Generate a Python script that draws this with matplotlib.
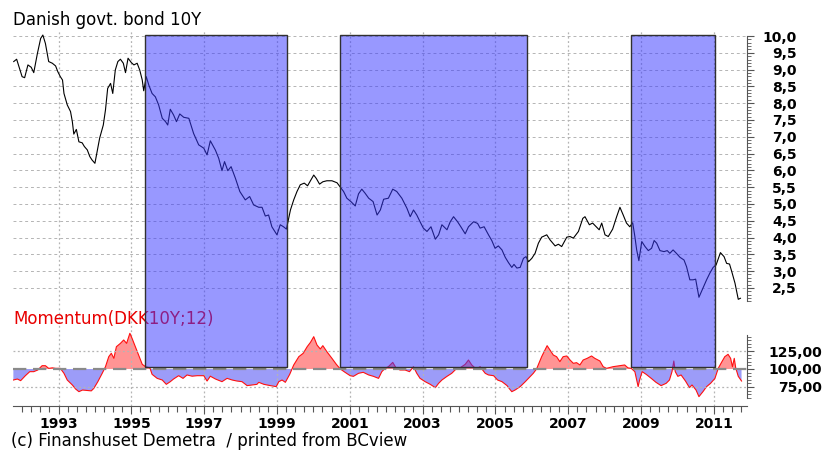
import numpy as np
import matplotlib
matplotlib.use('Agg')
import matplotlib.pyplot as plt
from matplotlib.patches import Rectangle
from matplotlib.transforms import blended_transform_factory
from matplotlib.ticker import FixedLocator, FuncFormatter

# Danish govt. bond 10Y yield (decimal years)
bond_t = [1991.77, 1991.85, 1992.00, 1992.07, 1992.16, 1992.25, 1992.32, 1992.42, 1992.51, 1992.57,
          1992.64, 1992.73, 1992.83, 1992.92, 1992.98, 1993.05, 1993.11, 1993.15, 1993.24, 1993.33,
          1993.38, 1993.42, 1993.49, 1993.56, 1993.65, 1993.71, 1993.79, 1993.86, 1993.92, 1994.00,
          1994.06, 1994.13, 1994.23, 1994.29, 1994.35, 1994.43, 1994.49, 1994.56, 1994.63, 1994.70,
          1994.78, 1994.84, 1994.91, 1995.00, 1995.07, 1995.16, 1995.23, 1995.30, 1995.34, 1995.41,
          1995.48, 1995.57, 1995.66, 1995.75, 1995.85, 1995.94, 1996.00, 1996.07, 1996.16, 1996.24,
          1996.33, 1996.44, 1996.58, 1996.71, 1996.85, 1996.99, 1997.08, 1997.17, 1997.31, 1997.40,
          1997.49, 1997.56, 1997.65, 1997.74, 1997.86, 1997.98, 1998.13, 1998.25, 1998.36, 1998.50,
          1998.59, 1998.68, 1998.77, 1998.86, 1999.00, 1999.09, 1999.18, 1999.26, 1999.37, 1999.46,
          1999.55, 1999.64, 1999.75, 1999.84, 1999.93, 2000.01, 2000.08, 2000.17, 2000.26, 2000.37,
          2000.51, 2000.65, 2000.83, 2000.92, 2001.03, 2001.15, 2001.24, 2001.33, 2001.42, 2001.52,
          2001.64, 2001.75, 2001.84, 2001.93, 2002.06, 2002.18, 2002.29, 2002.43, 2002.57, 2002.66,
          2002.75, 2002.84, 2002.93, 2003.02, 2003.12, 2003.23, 2003.35, 2003.44, 2003.53, 2003.67,
          2003.76, 2003.85, 2003.96, 2004.05, 2004.17, 2004.26, 2004.40, 2004.51, 2004.58, 2004.69,
          2004.81, 2004.90, 2004.99, 2005.08, 2005.18, 2005.27, 2005.36, 2005.45, 2005.51, 2005.59,
          2005.68, 2005.77, 2005.84, 2005.91, 2006.00, 2006.09, 2006.18, 2006.27, 2006.41, 2006.50,
          2006.64, 2006.73, 2006.82, 2006.96, 2007.05, 2007.14, 2007.28, 2007.40, 2007.46, 2007.58,
          2007.67, 2007.78, 2007.85, 2007.92, 2008.01, 2008.10, 2008.22, 2008.33, 2008.42, 2008.51,
          2008.60, 2008.69, 2008.77, 2008.83, 2008.88, 2008.94, 2009.02, 2009.11, 2009.20, 2009.29,
          2009.36, 2009.43, 2009.52, 2009.63, 2009.72, 2009.79, 2009.88, 2009.97, 2010.07, 2010.18,
          2010.25, 2010.34, 2010.43, 2010.50, 2010.59, 2010.70, 2010.80, 2010.89, 2010.98, 2011.06,
          2011.18, 2011.28, 2011.35, 2011.43, 2011.49, 2011.58, 2011.67, 2011.73]
bond_y = [9.24, 9.31, 8.79, 8.76, 9.14, 9.07, 8.91, 9.48, 9.93, 10.03,
          9.78, 9.24, 9.19, 9.11, 8.94, 8.79, 8.69, 8.29, 7.95, 7.75,
          7.45, 7.08, 7.22, 6.85, 6.82, 6.71, 6.61, 6.41, 6.31, 6.21,
          6.56, 6.96, 7.35, 7.80, 8.44, 8.59, 8.29, 8.99, 9.24, 9.31,
          9.19, 8.91, 9.34, 9.21, 9.14, 9.19, 8.99, 8.69, 8.37, 8.79,
          8.54, 8.29, 8.19, 7.95, 7.55, 7.45, 7.35, 7.82, 7.65, 7.45,
          7.68, 7.58, 7.55, 7.10, 6.76, 6.66, 6.46, 6.88, 6.60, 6.36,
          5.99, 6.26, 5.99, 6.11, 5.76, 5.37, 5.12, 5.22, 4.97, 4.90,
          4.90, 4.64, 4.67, 4.32, 4.08, 4.38, 4.32, 4.25, 4.82, 5.12,
          5.37, 5.57, 5.62, 5.54, 5.71, 5.86, 5.76, 5.59, 5.66, 5.69,
          5.69, 5.63, 5.37, 5.17, 5.07, 4.94, 5.30, 5.44, 5.32, 5.17,
          5.07, 4.67, 4.82, 5.14, 5.17, 5.44, 5.37, 5.17, 4.87, 4.62,
          4.82, 4.67, 4.47, 4.28, 4.18, 4.32, 3.95, 4.08, 4.38, 4.23,
          4.47, 4.62, 4.47, 4.32, 4.11, 4.32, 4.47, 4.42, 4.28, 4.32,
          4.08, 3.91, 3.68, 3.75, 3.63, 3.41, 3.25, 3.11, 3.20, 3.09,
          3.11, 3.38, 3.43, 3.28, 3.38, 3.53, 3.83, 4.01, 4.08, 3.93,
          3.75, 3.80, 3.73, 4.01, 4.03, 3.98, 4.18, 4.57, 4.62, 4.38,
          4.43, 4.31, 4.23, 4.43, 4.08, 4.03, 4.25, 4.62, 4.90, 4.67,
          4.43, 4.32, 4.44, 4.03, 3.63, 3.31, 3.88, 3.73, 3.61, 3.68,
          3.91, 3.83, 3.61, 3.58, 3.61, 3.53, 3.63, 3.53, 3.41, 3.33,
          3.13, 2.74, 2.74, 2.76, 2.22, 2.49, 2.74, 2.94, 3.11, 3.18,
          3.55, 3.43, 3.23, 3.21, 2.99, 2.64, 2.16, 2.19]

# Momentum(DKK10Y;12)
mom_t = [1991.76, 1991.87, 1991.96, 1992.09, 1992.21, 1992.32, 1992.43, 1992.55, 1992.64, 1992.73,
         1992.83, 1992.92, 1993.05, 1993.15, 1993.24, 1993.38, 1993.47, 1993.56, 1993.66, 1993.79,
         1993.90, 1993.97, 1994.08, 1994.20, 1994.29, 1994.38, 1994.45, 1994.52, 1994.59, 1994.70,
         1994.79, 1994.87, 1994.96, 1995.02, 1995.11, 1995.20, 1995.30, 1995.39, 1995.51, 1995.57,
         1995.71, 1995.85, 1995.96, 1996.07, 1996.16, 1996.30, 1996.42, 1996.53, 1996.67, 1996.81,
         1996.99, 1997.08, 1997.17, 1997.31, 1997.49, 1997.63, 1997.77, 1997.90, 1998.04, 1998.18,
         1998.32, 1998.45, 1998.50, 1998.64, 1998.82, 1998.98, 1999.05, 1999.14, 1999.23, 1999.35,
         1999.46, 1999.60, 1999.72, 1999.83, 1999.92, 2000.01, 2000.10, 2000.19, 2000.26, 2000.37,
         2000.51, 2000.63, 2000.74, 2000.87, 2001.01, 2001.10, 2001.24, 2001.37, 2001.52, 2001.65,
         2001.79, 2001.88, 2001.97, 2002.06, 2002.18, 2002.27, 2002.38, 2002.52, 2002.64, 2002.75,
         2002.84, 2002.93, 2003.07, 2003.21, 2003.35, 2003.44, 2003.53, 2003.67, 2003.80, 2003.92,
         2004.03, 2004.17, 2004.26, 2004.35, 2004.47, 2004.58, 2004.72, 2004.81, 2004.95, 2005.06,
         2005.18, 2005.32, 2005.39, 2005.45, 2005.54, 2005.68, 2005.82, 2005.95, 2006.04, 2006.13,
         2006.27, 2006.36, 2006.42, 2006.50, 2006.59, 2006.68, 2006.77, 2006.86, 2006.96, 2007.05,
         2007.14, 2007.23, 2007.32, 2007.41, 2007.52, 2007.64, 2007.73, 2007.87, 2007.96, 2008.05,
         2008.23, 2008.42, 2008.55, 2008.64, 2008.73, 2008.83, 2008.92, 2008.96, 2009.03, 2009.14,
         2009.28, 2009.41, 2009.55, 2009.69, 2009.78, 2009.85, 2009.90, 2009.94, 2010.01, 2010.10,
         2010.22, 2010.33, 2010.40, 2010.51, 2010.59, 2010.70, 2010.80, 2010.91, 2011.03, 2011.12,
         2011.21, 2011.30, 2011.39, 2011.46, 2011.51, 2011.56, 2011.60, 2011.67, 2011.76]
mom_v = [84.7, 86.1, 83.8, 90.7, 96.3, 96.3, 98.6, 104.6, 104.6, 100.9,
         101.6, 100.9, 100.9, 94.0, 84.7, 77.8, 72.2, 68.5, 70.8, 70.1,
         69.6, 73.1, 82.4, 94.0, 103.2, 117.1, 121.8, 114.8, 131.0, 135.6,
         140.3, 135.6, 149.6, 142.6, 131.0, 119.4, 106.5, 103.2, 101.6, 92.6,
         87.0, 84.7, 78.7, 82.4, 86.1, 90.7, 87.0, 91.7, 90.0, 90.7,
         90.7, 83.3, 90.0, 86.1, 82.4, 87.0, 84.7, 83.3, 82.4, 76.9,
         77.8, 78.7, 81.5, 78.7, 76.9, 75.5, 82.4, 84.7, 81.5, 92.6,
         105.6, 117.1, 121.8, 131.0, 137.0, 144.9, 133.3, 127.8, 132.4, 124.1,
         114.8, 106.5, 100.0, 95.4, 90.7, 89.8, 94.0, 95.4, 91.7, 89.8,
         87.0, 96.3, 100.9, 103.2, 109.2, 101.6, 98.6, 98.6, 96.3, 103.2,
         94.0, 87.0, 82.4, 78.7, 74.1, 80.1, 84.7, 89.8, 94.0, 100.0,
         101.6, 106.5, 112.5, 105.6, 100.0, 103.2, 94.0, 91.7, 90.7, 84.7,
         82.4, 76.9, 72.2, 68.5, 70.8, 75.5, 82.4, 89.3, 94.0, 100.0,
         117.1, 126.4, 132.4, 126.4, 119.4, 117.1, 110.2, 117.1, 118.1, 112.5,
         107.9, 108.8, 105.6, 112.5, 114.8, 118.1, 114.8, 111.1, 103.2, 100.9,
         103.2, 104.6, 105.6, 101.6, 100.9, 96.3, 75.5, 84.7, 96.3, 92.6,
         87.0, 81.5, 76.9, 80.1, 84.7, 96.3, 111.1, 96.3, 89.8, 91.7,
         83.3, 74.1, 77.8, 70.8, 61.6, 68.5, 75.5, 80.1, 87.0, 100.9,
         109.2, 117.1, 120.4, 114.8, 103.2, 114.8, 101.6, 89.8, 83.3]

# shaded periods
band_start = [1995.37, 2000.73, 2008.72]
band_end = [1999.28, 2005.88, 2011.03]

odd_years = [1993, 1995, 1997, 1999, 2001, 2003, 2005, 2007, 2009, 2011]

W, H = 826, 450


def px_box(x0, y0, x1, y1):
    # pixel box (top-left origin) -> figure fraction rect
    return [x0 / W, 1 - y1 / H, (x1 - x0) / W, (y1 - y0) / H]


plt.rcParams['font.family'] = 'DejaVu Sans'
fig = plt.figure(figsize=(W / 100, H / 100), dpi=100)
ax_top = fig.add_axes(px_box(13, 30, 747, 305))
ax_bot = fig.add_axes(px_box(13, 305, 747, 406), sharex=ax_top)

grid_col = '#b4b4b4'
tick_col = '#555555'
lab_size = 10

# ---- upper panel: bond yield
ax_top.plot(bond_t, bond_y, color='black', lw=0.8)
ax_top.set_xlim(1991.75, 2011.91)
ax_top.set_ylim(1.99, 10.18)
ax_top.yaxis.tick_right()
ax_top.yaxis.set_major_locator(FixedLocator(np.arange(2.5, 10.01, 0.5)))
ax_top.yaxis.set_minor_locator(FixedLocator(np.arange(2.1, 10.01, 0.1)))
ax_top.yaxis.set_major_formatter(FuncFormatter(lambda v, p: f'{v:.1f}'.replace('.', ',')))
ax_top.tick_params(axis='y', which='major', length=5, width=0.8, color=tick_col,
                   pad=31, labelsize=lab_size)
ax_top.tick_params(axis='y', which='minor', length=3, width=0.6, color=tick_col)
ax_top.tick_params(axis='x', which='both', bottom=False, labelbottom=False)
for lab in ax_top.get_yticklabels():
    lab.set_horizontalalignment('right')
    lab.set_fontweight('bold')
ax_top.grid(axis='y', color=grid_col, linestyle=(0, (3, 3)), lw=0.7)
for s in ['top', 'left', 'bottom']:
    ax_top.spines[s].set_visible(False)
ax_top.spines['right'].set_bounds(2.1, 10.0)
ax_top.spines['right'].set_color(tick_col)

# ---- lower panel: momentum
m = np.array(mom_v)
ax_bot.fill_between(mom_t, m, 100, where=m >= 100, interpolate=True,
                    color='#ff9494', lw=0)
ax_bot.fill_between(mom_t, m, 100, where=m <= 100, interpolate=True,
                    color='#9c9cf8', lw=0)
ax_bot.plot(mom_t, mom_v, color='#ff1010', lw=0.8)
ax_bot.set_ylim(48.6, 188.9)
ax_bot.axhline(125, color=grid_col, linestyle=(0, (1.5, 2)), lw=0.9)
ax_bot.axhline(75, color=grid_col, linestyle=(0, (1.5, 2)), lw=0.9)
ax_bot.axhline(100, color='#8a8a8a', linestyle=(0, (6, 3)), lw=1.6)
ax_bot.yaxis.tick_right()
ax_bot.yaxis.set_major_locator(FixedLocator([75, 100, 125]))
ax_bot.yaxis.set_minor_locator(FixedLocator(np.arange(60, 146, 5)))
ax_bot.yaxis.set_major_formatter(FuncFormatter(lambda v, p: f'{v:.2f}'.replace('.', ',')))
ax_bot.tick_params(axis='y', which='major', length=5, width=0.8, color=tick_col,
                   pad=49, labelsize=lab_size)
ax_bot.tick_params(axis='y', which='minor', length=3, width=0.6, color=tick_col)
for lab in ax_bot.get_yticklabels():
    lab.set_horizontalalignment('right')
    lab.set_fontweight('bold')
for s in ['top', 'left']:
    ax_bot.spines[s].set_visible(False)
ax_bot.spines['right'].set_bounds(60, 147)
ax_bot.spines['right'].set_color(tick_col)
ax_bot.spines['bottom'].set_color(tick_col)

ax_bot.xaxis.set_major_locator(FixedLocator(odd_years))
ax_bot.xaxis.set_minor_locator(FixedLocator(np.arange(1992.0, 2011.9, 0.25)))
ax_bot.xaxis.set_major_formatter(FuncFormatter(lambda v, p: f'{int(round(v))}'))
ax_bot.tick_params(axis='x', which='major', length=6, width=0.8, color=tick_col,
                   pad=2, labelsize=lab_size)
ax_bot.tick_params(axis='x', which='minor', length=4, width=0.8, color=tick_col)
for lab in ax_bot.get_xticklabels():
    lab.set_fontweight('bold')

for ax in (ax_top, ax_bot):
    ax.grid(axis='x', which='major', color=grid_col, linestyle=(0, (1.5, 2)), lw=0.9)
    ax.set_facecolor('none')

# momentum title sits under the shaded bands
ax_bot.text(13 / W, 1 - 319 / H, 'Momentum(DKK10Y;12)', transform=fig.transFigure,
            color='#e80000', fontsize=12, va='center', ha='left')

# shaded bands spanning both panels, drawn over the lines
trans = blended_transform_factory(ax_top.transData, fig.transFigure)
y_lo = 1 - 366.7 / H
y_hi = 1 - 35 / H
for x0, x1 in zip(band_start, band_end):
    fig.add_artist(Rectangle((x0, y_lo), x1 - x0, y_hi - y_lo, transform=trans,
                             facecolor=(0.227, 0.227, 1.0, 0.52),
                             edgecolor='#303030', lw=1))

fig.text(13 / W, 1 - 20 / H, 'Danish govt. bond 10Y', fontsize=12, va='center', ha='left')
fig.text(11 / W, 1 - 441 / H, '(c) Finanshuset Demetra  / printed from BCview',
         fontsize=12, va='center', ha='left')

fig.savefig('out.png', dpi=100)
